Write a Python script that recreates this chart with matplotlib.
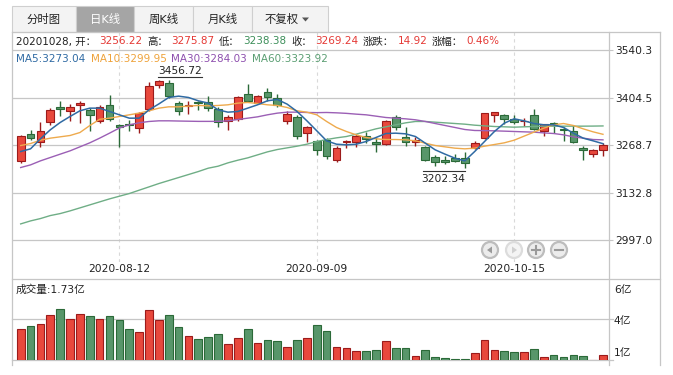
import matplotlib
matplotlib.use("Agg")
import matplotlib.pyplot as plt
from matplotlib.patches import Rectangle, Circle, Polygon
from matplotlib.transforms import offset_copy
import numpy as np

plt.rcParams['font.family'] = ['DejaVu Sans', 'Noto Sans CJK SC']

# ---------------- data ----------------
dates = ["2020-07-29", "2020-07-30", "2020-07-31", "2020-08-03", "2020-08-04", "2020-08-05", "2020-08-06", "2020-08-07",
         "2020-08-10", "2020-08-11", "2020-08-12", "2020-08-13", "2020-08-14", "2020-08-17", "2020-08-18", "2020-08-19",
         "2020-08-20", "2020-08-21", "2020-08-24", "2020-08-25", "2020-08-26", "2020-08-27", "2020-08-28", "2020-08-31",
         "2020-09-01", "2020-09-02", "2020-09-03", "2020-09-04", "2020-09-07", "2020-09-08", "2020-09-09", "2020-09-10",
         "2020-09-11", "2020-09-14", "2020-09-15", "2020-09-16", "2020-09-17", "2020-09-18", "2020-09-21", "2020-09-22",
         "2020-09-23", "2020-09-24", "2020-09-25", "2020-09-28", "2020-09-29", "2020-09-30", "2020-10-09", "2020-10-12",
         "2020-10-13", "2020-10-14", "2020-10-15", "2020-10-16", "2020-10-19", "2020-10-20", "2020-10-21", "2020-10-22",
         "2020-10-23", "2020-10-26", "2020-10-27", "2020-10-28"]

open_ = [3223.9, 3302.2, 3279.3, 3333.8, 3376.8, 3367.3, 3384.5, 3370.1, 3336.7, 3382.6,
         3327.1, 3330.9, 3317.5, 3373.0, 3441.9, 3445.7, 3388.3, 3381.6, 3393.1, 3392.1,
         3373.0, 3336.7, 3344.3, 3416.0, 3390.2, 3420.8, 3403.6, 3338.6, 3350.0, 3304.1,
         3281.2, 3285.0, 3225.7, 3277.4, 3277.4, 3294.6, 3279.3, 3271.7, 3350.0, 3292.7,
         3279.3, 3264.0, 3235.3, 3227.6, 3231.5, 3233.4, 3262.1, 3288.9, 3355.8, 3356.7,
         3344.3, 3336.7, 3353.9, 3309.9, 3332.8, 3315.6, 3309.9, 3260.2, 3242.9, 3256.22]

close = [3296.5, 3288.8, 3309.9, 3370.1, 3373.0, 3377.8, 3389.3, 3355.8, 3378.8, 3344.3,
         3321.4, 3325.2, 3361.5, 3438.0, 3451.4, 3409.3, 3367.3, 3384.5, 3388.3, 3374.9,
         3334.7, 3350.1, 3405.5, 3395.9, 3410.3, 3406.5, 3384.5, 3357.7, 3294.6, 3319.5,
         3254.4, 3237.2, 3262.1, 3281.2, 3296.5, 3287.0, 3271.7, 3338.6, 3319.5, 3277.4,
         3283.1, 3225.7, 3220.0, 3220.0, 3223.8, 3218.1, 3273.6, 3359.6, 3362.5, 3344.3,
         3334.7, 3339.5, 3315.6, 3329.0, 3325.2, 3311.8, 3279.3, 3254.4, 3254.32, 3269.24]

high = [3298.0, 3313.7, 3334.7, 3374.9, 3394.0, 3386.4, 3394.0, 3374.9, 3384.5, 3411.3,
        3330.9, 3340.5, 3363.0, 3449.5, 3456.72, 3455.0, 3395.9, 3395.9, 3395.9, 3409.3,
        3378.7, 3355.8, 3409.3, 3443.8, 3413.2, 3432.3, 3415.1, 3365.4, 3355.8, 3323.3,
        3285.0, 3288.9, 3265.9, 3283.1, 3300.3, 3306.1, 3290.8, 3340.5, 3353.9, 3321.4,
        3292.7, 3267.8, 3241.0, 3239.1, 3244.9, 3248.7, 3281.2, 3361.5, 3363.4, 3357.7,
        3355.8, 3346.2, 3373.0, 3330.9, 3334.7, 3321.4, 3327.1, 3267.8, 3258.3, 3275.87]

low = [3217.0, 3283.1, 3264.0, 3327.1, 3351.0, 3336.7, 3331.9, 3309.9, 3331.9, 3338.6,
       3264.9, 3309.9, 3304.1, 3367.3, 3432.3, 3404.0, 3353.9, 3357.7, 3370.1, 3365.4,
       3321.4, 3313.7, 3338.6, 3394.0, 3386.4, 3395.9, 3376.8, 3330.9, 3287.0, 3279.3,
       3241.0, 3229.6, 3220.0, 3260.2, 3264.0, 3275.5, 3248.7, 3269.7, 3311.8, 3265.9,
       3267.8, 3223.8, 3208.5, 3214.3, 3220.0, 3202.34, 3258.3, 3286.9, 3334.7, 3330.9,
       3329.0, 3323.3, 3311.8, 3294.6, 3304.1, 3281.2, 3275.5, 3225.7, 3235.3, 3238.38]

ma5 = [3250.6, 3258.3, 3287.0, 3312.8, 3333.8, 3351.0, 3367.3, 3374.9, 3374.9, 3365.4,
       3355.8, 3346.2, 3346.2, 3370.0, 3387.0, 3405.5, 3409.3, 3405.5, 3396.0, 3389.3,
       3370.1, 3363.4, 3365.4, 3374.9, 3384.5, 3396.0, 3399.8, 3386.4, 3365.4, 3338.6,
       3310.0, 3281.2, 3271.6, 3269.7, 3271.6, 3279.3, 3290.8, 3302.2, 3303.2, 3301.3,
       3293.6, 3274.5, 3255.4, 3243.0, 3231.5, 3223.8, 3250.6, 3279.3, 3308.0, 3331.9,
       3344.3, 3338.6, 3330.9, 3327.1, 3327.1, 3319.5, 3303.2, 3288.9, 3281.2, 3273.04]

ma10 = [3267.8, 3273.5, 3283.1, 3288.9, 3292.7, 3296.5, 3305.0, 3325.0, 3343.0, 3346.2,
        3351.0, 3355.8, 3360.6, 3367.3, 3374.9, 3378.7, 3378.7, 3380.7, 3382.6, 3381.6,
        3382.6, 3384.5, 3389.3, 3391.2, 3388.3, 3384.5, 3382.6, 3376.8, 3367.3, 3363.4,
        3355.8, 3336.7, 3319.5, 3308.0, 3298.4, 3290.8, 3287.0, 3285.0, 3285.0, 3284.1,
        3281.2, 3274.5, 3267.8, 3264.0, 3260.2, 3258.3, 3260.2, 3265.9, 3270.7, 3275.5,
        3283.1, 3294.6, 3306.1, 3317.5, 3327.1, 3330.9, 3325.2, 3315.6, 3307.0, 3299.95]

ma30 = [3204.7, 3212.3, 3223.8, 3233.4, 3243.0, 3252.5, 3264.0, 3275.5, 3288.9, 3303.2,
        3318.0, 3327.0, 3333.0, 3336.7, 3338.6, 3338.6, 3338.0, 3337.5, 3337.0, 3337.0,
        3337.0, 3338.6, 3342.4, 3346.2, 3350.0, 3355.8, 3360.6, 3363.4, 3363.4, 3362.5,
        3362.0, 3362.5, 3361.5, 3360.0, 3357.7, 3355.8, 3352.0, 3348.1, 3346.2, 3344.3,
        3341.5, 3336.7, 3330.9, 3325.2, 3319.5, 3313.7, 3310.9, 3310.5, 3309.9, 3309.0,
        3308.0, 3307.0, 3306.1, 3304.0, 3302.2, 3298.4, 3292.7, 3288.9, 3285.0, 3284.03]

ma60 = [3043.1, 3051.7, 3058.4, 3067.0, 3072.7, 3080.4, 3089.0, 3097.6, 3106.2, 3114.8,
        3122.5, 3130.1, 3139.7, 3149.2, 3158.8, 3167.4, 3176.0, 3184.6, 3193.2, 3202.8,
        3208.5, 3218.1, 3225.7, 3232.4, 3241.0, 3249.6, 3256.3, 3261.1, 3265.9, 3271.6,
        3279.3, 3285.0, 3289.8, 3293.6, 3300.3, 3308.0, 3315.6, 3321.4, 3327.1, 3332.8,
        3336.7, 3336.7, 3334.7, 3332.8, 3330.9, 3329.0, 3326.1, 3324.2, 3322.3, 3321.4,
        3320.4, 3321.4, 3322.3, 3323.3, 3323.3, 3323.3, 3323.3, 3323.3, 3323.5, 3323.92]

# volume in 亿
volume = [3.37, 3.56, 3.69, 4.25, 4.63, 4.00, 4.32, 4.19, 4.00, 4.19,
          3.94, 3.37, 3.18, 4.57, 3.94, 4.25, 3.50, 2.93, 2.74, 2.87,
          3.05, 2.42, 2.80, 3.37, 2.49, 2.68, 2.61, 2.23, 2.68, 2.80,
          3.62, 3.24, 2.23, 2.17, 1.98, 1.98, 2.05, 2.61, 2.17, 2.17,
          1.67, 2.05, 1.60, 1.54, 1.48, 1.48, 1.86, 2.68, 2.05, 1.98,
          1.92, 1.92, 2.11, 1.60, 1.73, 1.60, 1.73, 1.67, 1.43, 1.73]

price_ticks = [2997.0, 3132.8, 3268.7, 3404.5, 3540.3]
date_ticks = ["2020-08-12", "2020-09-09", "2020-10-15"]
vol_ticks = [6, 4, 1]
tabs = ["分时图", "日K线", "周K线", "月K线", "不复权"]

# ---------------- styling ----------------
W, H = 673, 375
RED, RED_E = "#e8483c", "#9c1b1b"
GRN, GRN_E = "#58966a", "#2b6a38"
C5, C10, C30, C60 = "#2f6aa3", "#eeaa4d", "#9b5fb5", "#6fae86"
GRIDC = "#c6c6c6"
FS = 7.7

fig = plt.figure(figsize=(W / 100, H / 100), dpi=100)
fig.patch.set_facecolor("white")


def R(x0, y0, x1, y1):
    return [x0 / W, 1 - y1 / H, (x1 - x0) / W, (y1 - y0) / H]


n = len(close)
idx = np.arange(n)
up = [c >= o for o, c in zip(open_, close)]
fill = [RED if u else GRN for u in up]
edge = [RED_E if u else GRN_E for u in up]
xlim = (-0.88, 59.61)

# ---------------- price axes ----------------
ax = fig.add_axes(R(12, 32, 609, 262))
ax.set_xlim(*xlim)
ax.set_ylim(2933.9, 3593.2)
ax.set_facecolor("none")
for s in ax.spines.values():
    s.set_visible(False)
ax.yaxis.tick_right()
ax.set_yticks(price_ticks)
ax.set_yticklabels([f"{t:.1f}" for t in price_ticks])
ax.tick_params(axis="y", length=3, width=0.8, color=GRIDC, labelsize=FS, pad=1.5, labelcolor="#222222")
xt = [dates.index(d) for d in date_ticks]
ax.set_xticks(xt)
ax.set_xticklabels(date_ticks)
ax.tick_params(axis="x", length=0, labelsize=FS, pad=1.5, labelcolor="#222222")
ax.set_axisbelow(True)
ax.yaxis.grid(True, color=GRIDC, lw=0.9, ls="-")
ax.xaxis.grid(True, color="#d9d9d9", lw=0.8, ls=(0, (3, 3)))

body_bot = [min(o, c) for o, c in zip(open_, close)]
body_h = [max(abs(c - o), 1.2) for o, c in zip(open_, close)]
ax.vlines(idx, low, high, colors=edge, lw=1.0, zorder=2)
ax.bar(idx, body_h, bottom=body_bot, width=0.78, color=fill, edgecolor=edge, lw=0.8, zorder=3)

ax.plot(idx, ma60, color=C60, lw=1.0, zorder=4)
ax.plot(idx, ma30, color=C30, lw=1.0, zorder=4)
ax.plot(idx, ma10, color=C10, lw=1.0, zorder=4)
ax.plot(idx, ma5, color=C5, lw=1.1, zorder=4)

# max / min annotations
imax = int(np.argmax(high))
imin = int(np.argmin(low))
ax.annotate(f"{high[imax]:.2f}", xy=(imax, high[imax]), xytext=(-1, 8.5), textcoords="offset pixels",
            ha="left", va="center", fontsize=FS, color="#222222")
tr_up = offset_copy(ax.transData, fig=fig, x=0, y=3, units="dots")
ax.plot([imax - 0.09, imax + 4.37], [high[imax]] * 2, transform=tr_up, color="#333333", lw=0.8, clip_on=False)
ax.annotate(f"{low[imin]:.2f}", xy=(imin, low[imin]), xytext=(0, -10.5), textcoords="offset pixels",
            ha="right", va="center", fontsize=FS, color="#222222")
tr_dn = offset_copy(ax.transData, fig=fig, x=0, y=-2.7, units="dots")
ax.plot([imin - 4.25, imin], [low[imin]] * 2, transform=tr_dn, color="#333333", lw=0.8, clip_on=False)

# ---------------- volume axes ----------------
av = fig.add_axes(R(12, 279.3, 609, 360.3))
av.set_xlim(*xlim)
av.set_ylim(1.415, 6.52)
av.set_facecolor("none")
for s in av.spines.values():
    s.set_visible(False)
av.set_xticks([])
av.set_yticks([])
ext = (613 - 12) / (609 - 12)
av.axhline(4, xmin=0, xmax=ext, color=GRIDC, lw=0.9, clip_on=False, zorder=0)
av.axhline(1.415, xmin=0, xmax=ext, color=GRIDC, lw=0.9, clip_on=False, zorder=0)
av.bar(idx, volume, width=0.78, color=fill, edgecolor=edge, lw=0.8, zorder=2)
offs = {6: -2.4, 4: -1.4}
for v in vol_ticks:
    if v >= 1.415:
        av.annotate(f"{v}亿", xy=(1, v), xycoords=("axes fraction", "data"), xytext=(5, offs[v]),
                    textcoords="offset pixels", ha="left", va="center", fontsize=FS, color="#222222")
    else:
        av.annotate(f"{v}亿", xy=(1, 1.415), xycoords=("axes fraction", "data"), xytext=(5, 7.6),
                    textcoords="offset pixels", ha="left", va="center", fontsize=FS, color="#222222")

# ---------------- overlay (frame, tabs, texts) ----------------
ov = fig.add_axes([0, 0, 1, 1], zorder=10)
ov.set_xlim(0, W)
ov.set_ylim(H, 0)
ov.axis("off")
ov.patch.set_visible(False)

# tabs
tab_x = [12, 76, 134, 193, 252, 328]
for k, name in enumerate(tabs):
    sel = (k == 1)
    ov.add_patch(Rectangle((tab_x[k], 6), tab_x[k + 1] - tab_x[k], 26,
                           facecolor="#a5a5a5" if sel else "#f3f3f3", edgecolor="#cfcfcf", lw=0.8))
    cx = (tab_x[k] + tab_x[k + 1]) / 2 - (8 if k == 4 else 0)
    ov.text(cx, 19, name, ha="center", va="center", fontsize=8.2, color="white" if sel else "#222222")
ov.add_patch(Polygon([(302, 17.5), (309, 17.5), (305.5, 21.5)], closed=True, facecolor="#555555", edgecolor="none"))

# frame lines
LC = "#c6c6c6"
ov.plot([12, 660], [32, 32], color=LC, lw=0.9)
ov.plot([12, 12], [32, 365], color=LC, lw=0.9)
ov.plot([660, 660], [32, 365], color=LC, lw=0.9)
ov.plot([609, 609], [32, 365], color=LC, lw=0.9)
ov.plot([12, 660], [279.3, 279.3], color=LC, lw=0.9)

# info row (flowed text)
chg = close[-1] - close[-2]
pct = chg / close[-2] * 100
d = dates[-1].replace("-", "")
segs = [
    (f"{d}, 开：", "#222222", 3.5), (f"{open_[-1]:.2f}", "#e53935", 4.5),
    ("高：", "#222222", 3.5), (f"{high[-1]:.2f}", "#e53935", 4.5),
    ("低：", "#222222", 3.5), (f"{low[-1]:.2f}", "#3d8f5a", 4.5),
    ("收：", "#222222", 3.5), (f"{close[-1]:.2f}", "#e53935", 4.5),
    ("涨跌：", "#222222", 3.5), (f"{chg:.2f}", "#e53935", 4.5),
    ("涨幅：", "#222222", 3.5), (f"{pct:.2f}%", "#e53935", 4.5),
]
renderer = fig.canvas.get_renderer()
x = 16.0
for s, c, gap in segs:
    t = ov.text(x, 41.5, s, ha="left", va="center", fontsize=7.5, color=c)
    bb = t.get_window_extent(renderer=renderer)
    x += bb.width + gap

# MA legend
ma_segs = [(16, f"MA5:{ma5[-1]:.2f}", C5), (91, f"MA10:{ma10[-1]:.2f}", "#eea23a"),
           (171, f"MA30:{ma30[-1]:.2f}", "#8e4fae"), (252, f"MA60:{ma60[-1]:.2f}", "#5a9e72")]
for xx, s, c in ma_segs:
    ov.text(xx, 58.5, s, ha="left", va="center", fontsize=7.5, color=c)

# volume label
ov.text(16, 289.5, f"成交量:{volume[-1]:.2f}亿", ha="left", va="center", fontsize=FS, color="#222222")

# nav buttons
btn = [(490, "left", True), (514, "right", False), (536, "plus", True), (559, "minus", True)]
for bx, kind, active in btn:
    ec = "#bdbdbd" if active else "#dcdcdc"
    gc = "#9a9a9a" if active else "#d0d0d0"
    ov.add_patch(Circle((bx, 250), 8, facecolor="#ececec" if active else "#f4f4f4", edgecolor=ec, lw=1.6))
    if kind == "left":
        ov.add_patch(Polygon([(bx - 3, 250), (bx + 2, 246.5), (bx + 2, 253.5)], closed=True, facecolor=gc, edgecolor="none"))
    elif kind == "right":
        ov.add_patch(Polygon([(bx + 3, 250), (bx - 2, 246.5), (bx - 2, 253.5)], closed=True, facecolor=gc, edgecolor="none"))
    elif kind == "plus":
        ov.plot([bx - 4, bx + 4], [250, 250], color=gc, lw=1.5)
        ov.plot([bx, bx], [246, 254], color=gc, lw=1.5)
    else:
        ov.plot([bx - 4, bx + 4], [250, 250], color=gc, lw=1.5)

fig.savefig("out.png", dpi=100)
